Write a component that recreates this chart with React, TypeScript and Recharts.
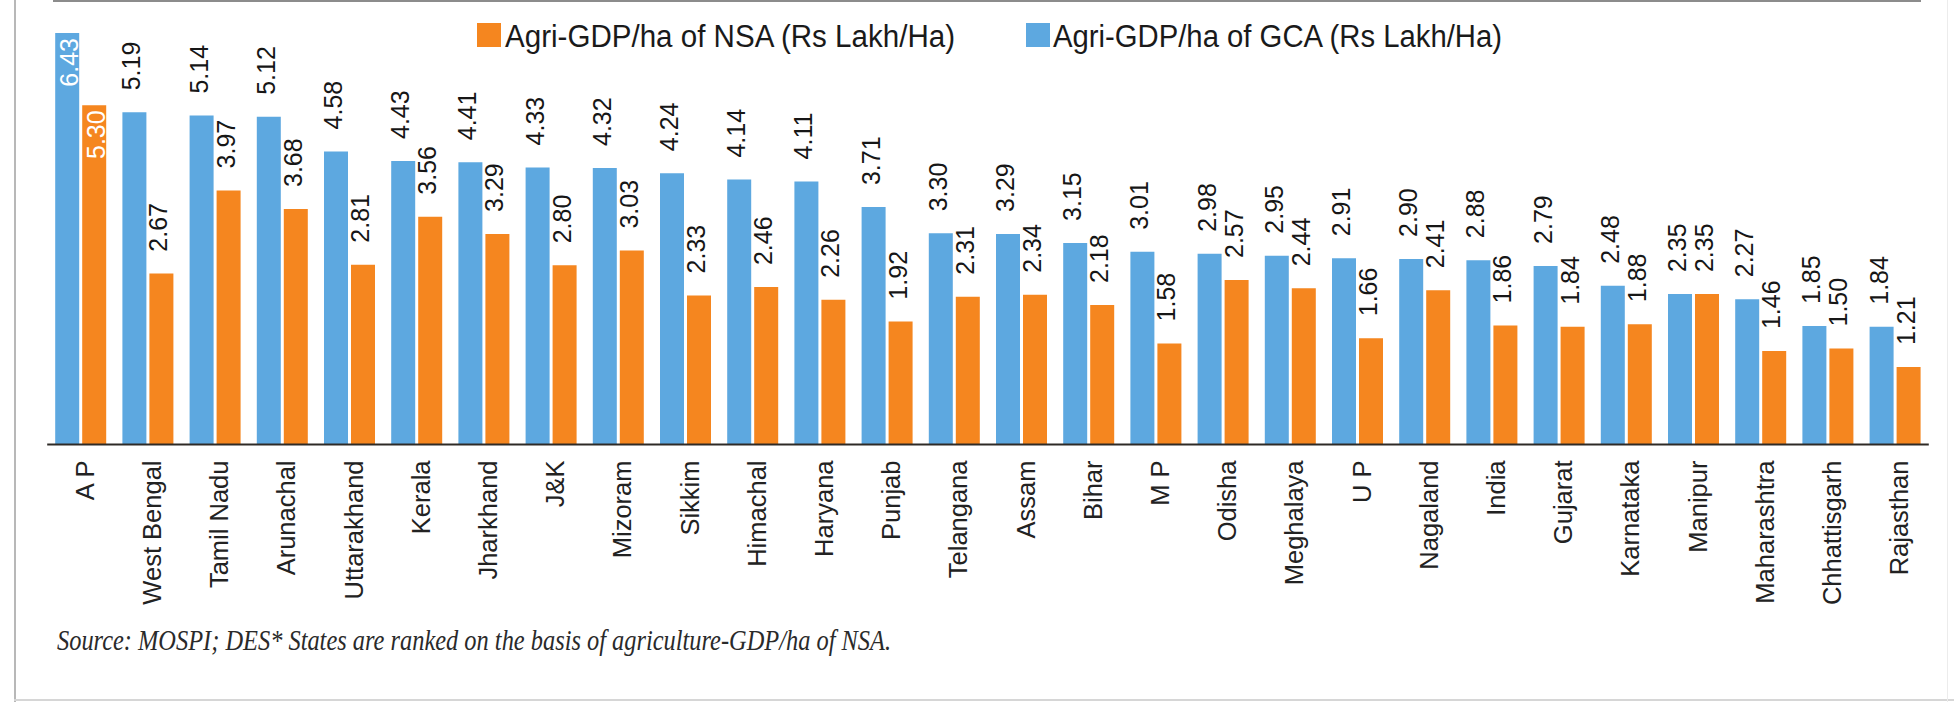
import React from 'react';
import { BarChart, Bar, XAxis, YAxis, Legend, LabelList } from 'recharts';

const categories = ['A P', 'West Bengal', 'Tamil Nadu', 'Arunachal', 'Uttarakhand', 'Kerala', 'Jharkhand', 'J&K', 'Mizoram', 'Sikkim', 'Himachal', 'Haryana', 'Punjab', 'Telangana', 'Assam', 'Bihar', 'M P', 'Odisha', 'Meghalaya', 'U P', 'Nagaland', 'India', 'Gujarat', 'Karnataka', 'Manipur', 'Maharashtra', 'Chhattisgarh', 'Rajasthan'];
const gcaValues = [6.43, 5.19, 5.14, 5.12, 4.58, 4.43, 4.41, 4.33, 4.32, 4.24, 4.14, 4.11, 3.71, 3.30, 3.29, 3.15, 3.01, 2.98, 2.95, 2.91, 2.90, 2.88, 2.79, 2.48, 2.35, 2.27, 1.85, 1.84];
const nsaValues = [5.30, 2.67, 3.97, 3.68, 2.81, 3.56, 3.29, 2.80, 3.03, 2.33, 2.46, 2.26, 1.92, 2.31, 2.34, 2.18, 1.58, 2.57, 2.44, 1.66, 2.41, 1.86, 1.84, 1.88, 2.35, 1.46, 1.50, 1.21];
const nsaName = 'Agri-GDP/ha of NSA (Rs Lakh/Ha)';
const gcaName = 'Agri-GDP/ha of GCA (Rs Lakh/Ha)';
const sourceNote = 'Source: MOSPI; DES* States are ranked on the basis of agriculture-GDP/ha of NSA.';

const BLUE = '#5da8e0';
const ORANGE = '#f5861f';

const data = categories.map((name, i) => ({ name, gca: gcaValues[i], nsa: nsaValues[i] }));

const SANS = '"Liberation Sans", Arial, Helvetica, sans-serif';
const NARROW = '"Liberation Sans Narrow", "Liberation Sans", Arial, sans-serif';

const ValueLabel = (props: any) => {
  const { x, y, width, value, index } = props;
  const cx = x + width / 2;
  const txt = Number(value).toFixed(2);
  if (index === 0) {
    const ax = cx + 11;
    const ay = y + 5;
    return (
      <text x={ax} y={ay} transform={`rotate(-90, ${ax}, ${ay})`} textAnchor="end" fill="#ffffff" fontSize={25} fontFamily={SANS}>
        {txt}
      </text>
    );
  }
  const ax = cx + 6;
  const ay = y - 22;
  return (
    <text x={ax} y={ay} transform={`rotate(-90, ${ax}, ${ay})`} textAnchor="start" fill="#161616" fontSize={25} fontFamily={SANS}>
      {txt}
    </text>
  );
};

const CategoryTick = (props: any) => {
  const { x, y, payload } = props;
  const ax = x + 13;
  const ay = y + 16;
  return (
    <text x={ax} y={ay} transform={`rotate(-90, ${ax}, ${ay})`} textAnchor="end" fill="#222222" fontSize={25.5} fontFamily={SANS}>
      {payload.value}
    </text>
  );
};

const LegendContent = () => (
  <svg width={1954} height={60} style={{ position: 'absolute', left: 0, top: 0, overflow: 'visible' }}>
    <rect x={477} y={23} width={24} height={24} fill={ORANGE} />
    <text x={505} y={47} fontSize={31} fontFamily={NARROW} fill="#1a1a1a" textLength={450} lengthAdjust="spacingAndGlyphs">
      {nsaName}
    </text>
    <rect x={1026} y={23} width={24} height={24} fill={BLUE} />
    <text x={1053} y={47} fontSize={31} fontFamily={NARROW} fill="#1a1a1a" textLength={449} lengthAdjust="spacingAndGlyphs">
      {gcaName}
    </text>
  </svg>
);

export default function App() {
  return (
    <div style={{ position: 'absolute', left: 0, top: 0, width: 1954, height: 702, background: '#ffffff', overflow: 'hidden', fontFamily: SANS }}>
      <div style={{ position: 'absolute', left: 14, top: 0, width: 2, height: 702, background: '#b8b8b8' }} />
      <div style={{ position: 'absolute', left: 53, top: 0, width: 1868, height: 2, background: '#8c8c8c' }} />
      <div style={{ position: 'absolute', left: 14, top: 699, width: 1940, height: 2, background: '#d6d6d6' }} />
      <div style={{ position: 'absolute', left: 1947, top: 0, width: 1, height: 702, background: '#ececec' }} />
      <BarChart
        width={1954}
        height={702}
        data={data}
        margin={{ top: 27.5, right: 25.2, bottom: 0, left: 47.2 }}
        barSize={24}
        barGap={3}
        style={{ position: 'absolute', left: 0, top: 0 }}
      >
        <YAxis hide domain={[0, 6.5]} />
        <XAxis
          dataKey="name"
          interval={0}
          height={257.5}
          tickLine={false}
          tickSize={0}
          tickMargin={0}
          axisLine={{ stroke: '#2e2a26', strokeWidth: 2 }}
          tick={<CategoryTick />}
        />
        <Legend
          verticalAlign="top"
          wrapperStyle={{ left: 0, top: 0, width: 1954, height: 1, overflow: 'visible' }}
          content={<LegendContent />}
        />
        <Bar dataKey="gca" name={gcaName} fill={BLUE} isAnimationActive={false}>
          <LabelList dataKey="gca" content={<ValueLabel />} />
        </Bar>
        <Bar dataKey="nsa" name={nsaName} fill={ORANGE} isAnimationActive={false}>
          <LabelList dataKey="nsa" content={<ValueLabel />} />
        </Bar>
      </BarChart>
      <svg width={1954} height={702} style={{ position: 'absolute', left: 0, top: 0, pointerEvents: 'none' }}>
        <text x={57} y={650} fontSize={29} fontStyle="italic" fontFamily='"Liberation Serif", "DejaVu Serif", serif' fill="#2a2a2a" textLength={834} lengthAdjust="spacingAndGlyphs">
          {sourceNote}
        </text>
      </svg>
    </div>
  );
}
